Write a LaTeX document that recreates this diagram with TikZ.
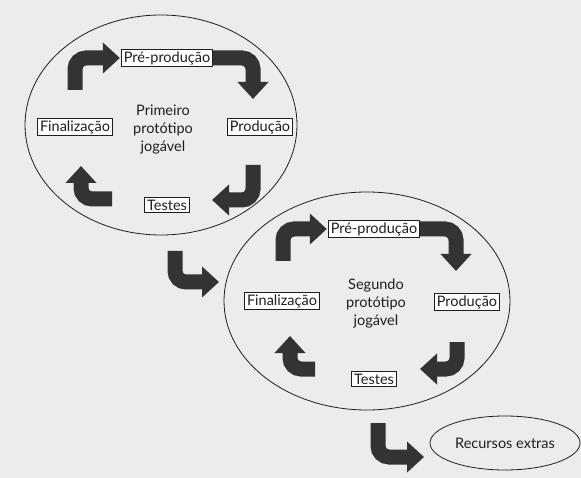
\documentclass[tikz,border=0pt]{standalone}
\usepackage{fontspec}
\setmainfont{Lato}
\usetikzlibrary{arrows.meta,calc,shapes.geometric}
\definecolor{paper}{HTML}{ECECEC}
\definecolor{arrowcol}{HTML}{333333}
\definecolor{inkcol}{HTML}{1E1E1E}
\tikzset{
  stagebox/.style={draw=inkcol, line width=0.8pt, fill=white, text=inkcol,
    font=\fontsize{14.5}{16}\selectfont, inner xsep=2.5pt, inner ysep=2pt},
  centertext/.style={text=inkcol, align=center,
    font=\fontsize{14.5}{18}\selectfont},
  cycleoval/.style={draw=inkcol, line width=0.8pt},
  bigarrow/.style={draw=arrowcol, line width=15pt, rounded corners=11pt,
    -{Triangle[width=30pt,length=17pt]}}
}
\begin{document}
\begin{tikzpicture}[x=1pt,y=-1pt]
\fill[paper] (0,0) rectangle (581,478);
\useasboundingbox (0,0) rectangle (581,478);
% ovals
\draw[cycleoval] (161,125) ellipse [x radius=136, y radius=110];
\draw[cycleoval] (367,301) ellipse [x radius=143, y radius=109];
\node[cycleoval, ellipse, minimum width=150pt, minimum height=54pt,
  inner sep=0pt, font=\fontsize{14.5}{16}\selectfont, text=inkcol] (rec) at (505,443)
  {Recursos extras};
% first cycle
\node[stagebox] (pp1) at (167,58) {Pré-produção};
\node[stagebox] (pr1) at (260,127) {Produção};
\node[stagebox] (te1) at (167,205) {Testes};
\node[stagebox] (fi1) at (75,127) {Finalização};
\node[centertext] (c1) at (163,130) {Primeiro\\protótipo\\jogável};
% second cycle
\node[stagebox] (pp2) at (374,229) {Pré-produção};
\node[stagebox] (pr2) at (467,302) {Produção};
\node[stagebox] (te2) at (374,379) {Testes};
\node[stagebox] (fi2) at (282,301) {Finalização};
\node[centertext] (c2) at (376,303) {Segundo\\protótipo\\jogável};
% free ends of arrows
\coordinate (a1s) at (75,90);
\coordinate (a2e) at (253,99);
\coordinate (a3s) at (253,165);
\coordinate (a3e) at (212,200);
\coordinate (a4s) at (112,199);
\coordinate (a4e) at (81,166);
\coordinate (b0s) at (175,251);
\coordinate (b0e) at (219,282);
\coordinate (b1s) at (283,261);
\coordinate (b2e) at (456,271);
\coordinate (b3s) at (457,342);
\coordinate (b3e) at (420,369);
\coordinate (b4s) at (315,369);
\coordinate (b4e) at (290,336);
\coordinate (b5s) at (378,423);
\coordinate (b5e) at (424,457);
% arrows of first cycle
\draw[bigarrow] (a1s) |- ([xshift=-1pt]pp1.west);
\draw[bigarrow] (pp1.east) -| (a2e);
\draw[bigarrow] (a3s) |- (a3e);
\draw[bigarrow] (a4s) -| (a4e);
% from first to second
\draw[bigarrow] (b0s) |- (b0e);
% arrows of second cycle
\draw[bigarrow] (b1s) |- ([xshift=-1pt]pp2.west);
\draw[bigarrow] (pp2.east) -| (b2e);
\draw[bigarrow] (b3s) |- (b3e);
\draw[bigarrow] (b4s) -| (b4e);
\draw[bigarrow] (b5s) |- (b5e);
\end{tikzpicture}
\end{document}
